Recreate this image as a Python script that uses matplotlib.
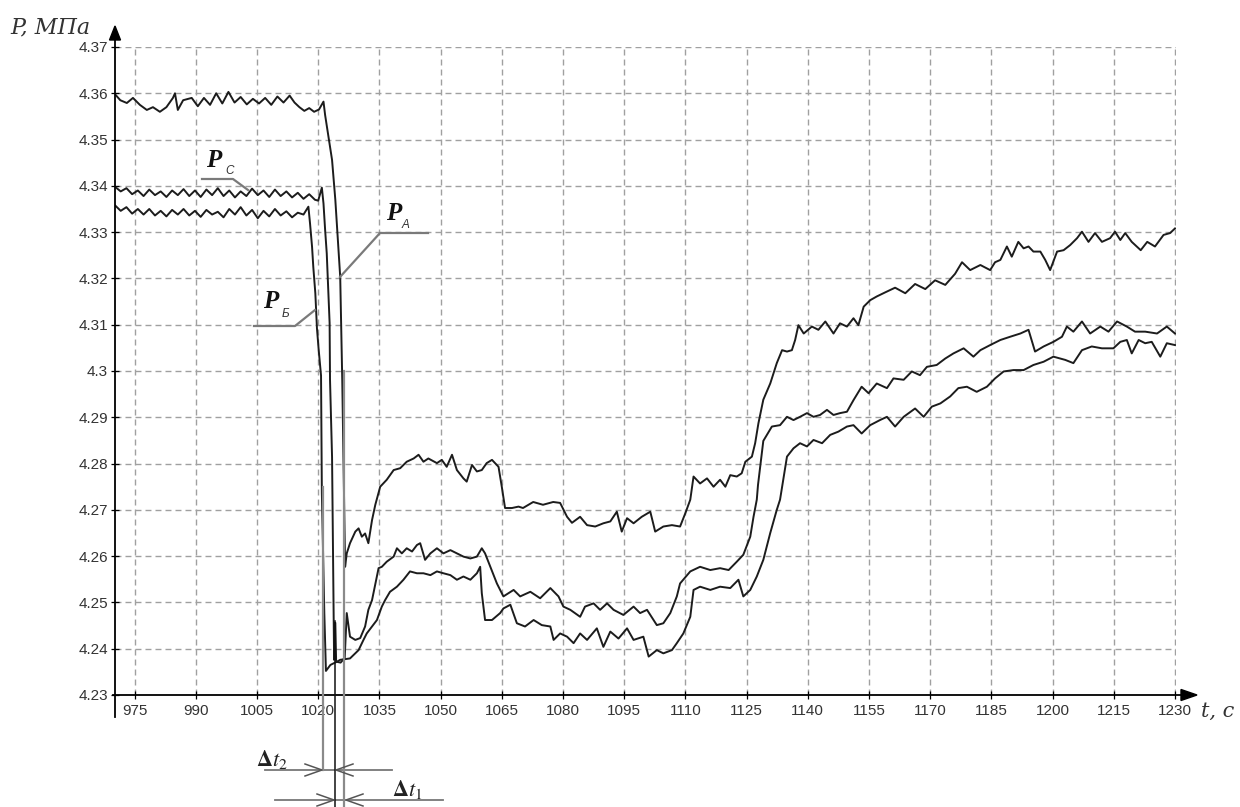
import matplotlib
matplotlib.use('Agg')
import matplotlib.pyplot as plt
from matplotlib.lines import Line2D
from matplotlib.patches import Polygon
from matplotlib import font_manager
import matplotlib.transforms as mtransforms

# ---------------- data (t in s, P in MPa) ----------------
curve_A = [
    (970.2, 4.3598), (971.5, 4.3585), (973.1, 4.3579), (974.6, 4.3590), (976.3, 4.3575),
    (978.0, 4.3564), (979.5, 4.3570), (981.2, 4.3560), (982.8, 4.3570), (984.4, 4.3590),
    (984.9, 4.3600), (985.6, 4.3564), (986.9, 4.3585), (989.0, 4.3590), (990.5, 4.3572),
    (992.0, 4.3590), (993.5, 4.3575), (995.0, 4.3600), (996.5, 4.3578), (998.0, 4.3603),
    (999.5, 4.3580), (1001.0, 4.3592), (1002.5, 4.3576), (1004.0, 4.3588), (1005.5, 4.3578),
    (1007.0, 4.3590), (1008.5, 4.3575), (1010.0, 4.3593), (1011.5, 4.3580), (1013.0, 4.3595),
    (1014.2, 4.3580), (1015.4, 4.3570), (1016.6, 4.3562), (1017.8, 4.3568), (1019.0, 4.3560),
    (1020.2, 4.3565), (1021.3, 4.3582),
    (1021.7, 4.3553), (1023.4, 4.3456), (1024.2, 4.3370), (1025.4, 4.3203), (1025.9, 4.2980),
    (1026.3, 4.2750), (1026.6, 4.2577),
    (1027.0, 4.2606), (1027.8, 4.2628), (1029.1, 4.2653), (1029.9, 4.2660), (1030.7, 4.2642),
    (1031.5, 4.2649), (1032.3, 4.2628), (1033.2, 4.2678), (1034.0, 4.2711), (1035.2, 4.2750),
    (1036.8, 4.2765), (1038.5, 4.2786), (1040.1, 4.2790), (1041.7, 4.2804), (1043.4, 4.2811),
    (1044.6, 4.2819), (1045.8, 4.2804), (1047.0, 4.2811), (1049.1, 4.2801), (1050.3, 4.2808),
    (1051.5, 4.2793), (1052.8, 4.2819), (1054.0, 4.2786), (1055.6, 4.2768), (1056.4, 4.2761),
    (1057.7, 4.2797), (1058.9, 4.2783), (1060.1, 4.2786), (1061.3, 4.2801), (1062.6, 4.2808),
    (1064.2, 4.2793), (1065.0, 4.2750), (1065.8, 4.2704), (1067.5, 4.2704), (1069.1, 4.2707),
    (1070.2, 4.2704), (1072.7, 4.2717), (1075.1, 4.2711), (1077.6, 4.2717), (1079.3, 4.2715),
    (1081.0, 4.2685), (1082.2, 4.2672), (1084.2, 4.2685), (1085.9, 4.2667), (1087.9, 4.2664),
    (1089.9, 4.2671), (1091.6, 4.2675), (1093.2, 4.2696), (1094.4, 4.2653), (1095.7, 4.2682),
    (1097.3, 4.2671), (1099.3, 4.2685), (1101.4, 4.2696), (1102.6, 4.2653), (1104.6, 4.2664),
    (1106.7, 4.2667), (1108.7, 4.2664), (1110.0, 4.2693), (1111.2, 4.2722), (1112.0, 4.2772),
    (1113.6, 4.2757), (1115.3, 4.2768), (1116.9, 4.2750), (1118.5, 4.2765), (1119.8, 4.2750),
    (1121.0, 4.2775), (1122.6, 4.2772), (1123.8, 4.2779), (1124.7, 4.2804), (1126.3, 4.2815),
    (1127.1, 4.2844), (1127.9, 4.2887), (1129.1, 4.2938), (1130.8, 4.2973), (1132.4, 4.3017),
    (1133.7, 4.3045), (1134.9, 4.3042), (1136.1, 4.3045), (1136.9, 4.3067), (1137.7, 4.3099),
    (1139.0, 4.3081), (1141.0, 4.3096), (1142.6, 4.3089), (1144.3, 4.3107), (1146.3, 4.3081),
    (1147.9, 4.3103), (1149.6, 4.3096), (1151.2, 4.3114), (1152.4, 4.3099), (1153.7, 4.3139),
    (1155.3, 4.3153), (1156.9, 4.3161), (1159.0, 4.3170), (1161.4, 4.3180), (1163.9, 4.3168),
    (1166.3, 4.3188), (1168.8, 4.3177), (1171.2, 4.3196), (1173.7, 4.3186), (1176.1, 4.3210),
    (1177.8, 4.3235), (1179.8, 4.3218), (1182.3, 4.3229), (1184.7, 4.3218), (1185.9, 4.3235),
    (1187.2, 4.3240), (1188.8, 4.3269), (1190.0, 4.3247), (1191.6, 4.3279), (1192.9, 4.3265),
    (1194.1, 4.3269), (1195.3, 4.3258), (1197.0, 4.3258), (1198.2, 4.3240), (1199.4, 4.3218),
    (1201.1, 4.3258), (1202.7, 4.3261), (1204.3, 4.3272), (1206.0, 4.3287), (1207.2, 4.3301),
    (1208.8, 4.3279), (1210.4, 4.3298), (1212.1, 4.3279), (1214.1, 4.3287), (1215.3, 4.3301),
    (1216.6, 4.3283), (1217.8, 4.3298), (1219.4, 4.3279), (1221.6, 4.3261), (1223.2, 4.3279),
    (1225.1, 4.3269), (1227.2, 4.3294), (1228.8, 4.3298), (1230.0, 4.3308),
]

curve_C = [
    (970.2, 4.3398), (971.6, 4.3388), (973.0, 4.3395), (974.4, 4.3382), (975.8, 4.3390),
    (977.2, 4.3378), (978.6, 4.3392), (980.0, 4.3380), (981.4, 4.3388), (982.8, 4.3376),
    (984.2, 4.3390), (985.6, 4.3380), (987.0, 4.3393), (988.4, 4.3378), (989.8, 4.3390),
    (991.2, 4.3376), (992.6, 4.3392), (994.0, 4.3380), (995.4, 4.3395), (996.8, 4.3378),
    (998.2, 4.3390), (999.6, 4.3375), (1001.0, 4.3388), (1002.4, 4.3378), (1003.8, 4.3394),
    (1005.2, 4.3380), (1006.6, 4.3390), (1008.0, 4.3376), (1009.4, 4.3392), (1010.8, 4.3378),
    (1012.2, 4.3388), (1013.6, 4.3375), (1015.0, 4.3385), (1016.4, 4.3372), (1017.8, 4.3382),
    (1019.2, 4.3370), (1020.0, 4.3368), (1020.9, 4.3396),
    (1021.3, 4.3362), (1021.7, 4.3305), (1022.1, 4.3254), (1022.5, 4.3168), (1022.8, 4.3104),
    (1022.9, 4.2981), (1023.4, 4.2814), (1023.9, 4.2376), (1024.2, 4.2456), (1024.4, 4.2372),
    (1025.5, 4.2370), (1026.5, 4.2380), (1027.0, 4.2477), (1027.8, 4.2426), (1029.1, 4.2419),
    (1030.3, 4.2423), (1031.5, 4.2448), (1032.3, 4.2484), (1033.2, 4.2505), (1034.8, 4.2574),
    (1035.6, 4.2577), (1036.8, 4.2588), (1038.5, 4.2599), (1039.3, 4.2617), (1040.5, 4.2606),
    (1041.7, 4.2617), (1043.0, 4.2610), (1044.2, 4.2624), (1045.0, 4.2628), (1046.2, 4.2592),
    (1047.5, 4.2606), (1049.1, 4.2617), (1050.7, 4.2606), (1052.4, 4.2613), (1054.0, 4.2606),
    (1055.6, 4.2599), (1057.3, 4.2595), (1058.9, 4.2599), (1060.1, 4.2617), (1060.9, 4.2606),
    (1062.2, 4.2577), (1063.8, 4.2541), (1065.4, 4.2513), (1067.9, 4.2527), (1069.5, 4.2513),
    (1072.0, 4.2523), (1074.4, 4.2509), (1076.9, 4.2531), (1078.9, 4.2513), (1080.1, 4.2491),
    (1081.8, 4.2484), (1084.2, 4.2469), (1085.4, 4.2491), (1087.5, 4.2498), (1089.1, 4.2484),
    (1090.8, 4.2498), (1092.4, 4.2484), (1094.8, 4.2473), (1097.3, 4.2491), (1098.9, 4.2477),
    (1100.6, 4.2484), (1103.0, 4.2451), (1104.6, 4.2455), (1106.3, 4.2477), (1107.9, 4.2513),
    (1108.7, 4.2541), (1111.2, 4.2567), (1113.6, 4.2577), (1116.1, 4.2570), (1118.5, 4.2574),
    (1120.6, 4.2570), (1122.6, 4.2588), (1124.2, 4.2603), (1125.9, 4.2642), (1126.7, 4.2685),
    (1127.5, 4.2722), (1127.8, 4.2754), (1129.1, 4.2849), (1131.2, 4.2880), (1133.2, 4.2883),
    (1134.9, 4.2901), (1136.5, 4.2894), (1138.1, 4.2901), (1139.8, 4.2909), (1141.4, 4.2901),
    (1143.0, 4.2905), (1144.7, 4.2916), (1146.3, 4.2905), (1147.9, 4.2909), (1149.6, 4.2912),
    (1151.2, 4.2937), (1153.2, 4.2966), (1154.9, 4.2952), (1156.9, 4.2973), (1159.4, 4.2963),
    (1161.0, 4.2984), (1163.5, 4.2981), (1165.5, 4.2999), (1167.5, 4.2991), (1169.2, 4.3009),
    (1171.6, 4.3013), (1173.7, 4.3027), (1175.7, 4.3038), (1178.2, 4.3049), (1180.6, 4.3031),
    (1182.3, 4.3045), (1184.7, 4.3056), (1187.2, 4.3067), (1189.6, 4.3074), (1192.1, 4.3081),
    (1194.1, 4.3089), (1195.7, 4.3042), (1197.8, 4.3053), (1200.2, 4.3063), (1202.3, 4.3074),
    (1203.5, 4.3096), (1205.1, 4.3085), (1207.2, 4.3107), (1209.2, 4.3081), (1211.7, 4.3096),
    (1213.7, 4.3085), (1215.8, 4.3107), (1218.2, 4.3096), (1220.2, 4.3085), (1222.7, 4.3085),
    (1225.6, 4.3081), (1228.0, 4.3096), (1230.0, 4.3081),
]

curve_B = [
    (970.2, 4.3358), (971.6, 4.3346), (973.0, 4.3354), (974.4, 4.3340), (975.8, 4.3350),
    (977.2, 4.3338), (978.6, 4.3350), (980.0, 4.3336), (981.4, 4.3346), (982.8, 4.3334),
    (984.2, 4.3348), (985.6, 4.3338), (987.0, 4.3350), (988.4, 4.3336), (989.8, 4.3346),
    (991.2, 4.3333), (992.6, 4.3348), (994.0, 4.3338), (995.4, 4.3344), (996.8, 4.3332),
    (998.2, 4.3350), (999.6, 4.3338), (1001.0, 4.3354), (1002.4, 4.3336), (1003.8, 4.3348),
    (1005.2, 4.3330), (1006.6, 4.3346), (1008.0, 4.3334), (1009.4, 4.3350), (1010.8, 4.3336),
    (1012.2, 4.3345), (1013.6, 4.3332), (1015.0, 4.3342), (1016.4, 4.3338), (1017.6, 4.3355),
    (1018.0, 4.3319), (1018.5, 4.3268), (1018.8, 4.3225), (1019.3, 4.3168), (1019.7, 4.3092),
    (1020.1, 4.3048), (1020.7, 4.2990), (1020.9, 4.2737), (1021.5, 4.2477), (1021.9, 4.2352),
    (1023.0, 4.2365), (1024.6, 4.2372), (1025.4, 4.2376), (1027.8, 4.2379), (1029.9, 4.2397),
    (1031.1, 4.2419), (1031.9, 4.2433), (1033.2, 4.2448), (1034.4, 4.2462), (1035.6, 4.2491),
    (1036.4, 4.2505), (1037.6, 4.2523), (1039.3, 4.2534), (1040.9, 4.2549), (1042.5, 4.2567),
    (1044.2, 4.2563), (1045.8, 4.2563), (1047.5, 4.2559), (1049.1, 4.2567), (1050.7, 4.2563),
    (1052.4, 4.2559), (1054.0, 4.2549), (1055.6, 4.2556), (1057.3, 4.2549), (1058.9, 4.2563),
    (1059.7, 4.2577), (1060.1, 4.2520), (1060.9, 4.2462), (1062.6, 4.2462), (1064.6, 4.2477),
    (1065.4, 4.2487), (1067.1, 4.2495), (1068.7, 4.2455), (1070.7, 4.2448), (1072.8, 4.2462),
    (1074.8, 4.2451), (1076.9, 4.2448), (1077.7, 4.2419), (1079.3, 4.2433), (1081.0, 4.2426),
    (1082.6, 4.2412), (1084.2, 4.2433), (1085.9, 4.2419), (1088.3, 4.2444), (1089.9, 4.2404),
    (1091.6, 4.2437), (1093.6, 4.2422), (1095.7, 4.2444), (1097.3, 4.2419), (1099.7, 4.2426),
    (1101.0, 4.2383), (1103.0, 4.2397), (1104.6, 4.2390), (1106.7, 4.2397), (1107.9, 4.2412),
    (1109.5, 4.2433), (1111.2, 4.2469), (1112.0, 4.2527), (1113.6, 4.2534), (1116.1, 4.2527),
    (1118.5, 4.2534), (1121.0, 4.2531), (1123.0, 4.2549), (1124.2, 4.2513), (1125.9, 4.2527),
    (1127.5, 4.2556), (1129.1, 4.2592), (1130.8, 4.2650), (1132.4, 4.2700), (1133.2, 4.2722),
    (1134.9, 4.2815), (1136.5, 4.2833), (1138.1, 4.2844), (1139.8, 4.2837), (1141.4, 4.2851),
    (1143.5, 4.2844), (1145.5, 4.2862), (1147.5, 4.2869), (1149.6, 4.2880), (1151.2, 4.2883),
    (1153.2, 4.2865), (1155.3, 4.2883), (1157.7, 4.2894), (1159.4, 4.2901), (1161.4, 4.2880),
    (1163.5, 4.2901), (1166.3, 4.2919), (1168.4, 4.2901), (1170.4, 4.2923), (1172.5, 4.2930),
    (1174.9, 4.2945), (1176.9, 4.2963), (1179.0, 4.2966), (1181.4, 4.2955), (1183.9, 4.2966),
    (1185.9, 4.2984), (1188.0, 4.2999), (1190.4, 4.3002), (1192.9, 4.3002), (1195.3, 4.3013),
    (1197.8, 4.3020), (1200.2, 4.3031), (1203.1, 4.3024), (1205.1, 4.3017), (1207.2, 4.3045),
    (1209.6, 4.3053), (1212.1, 4.3049), (1214.9, 4.3049), (1216.6, 4.3063), (1218.2, 4.3067),
    (1219.4, 4.3038), (1221.1, 4.3067), (1222.7, 4.3060), (1224.3, 4.3063), (1226.4, 4.3031),
    (1228.0, 4.3060), (1230.0, 4.3056),
]

x_ticks = [975, 990, 1005, 1020, 1035, 1050, 1065, 1080, 1095, 1110, 1125,
           1140, 1155, 1170, 1185, 1200, 1215, 1230]
y_ticks = [4.23, 4.24, 4.25, 4.26, 4.27, 4.28, 4.29, 4.30, 4.31, 4.32, 4.33,
           4.34, 4.35, 4.36, 4.37]
y_tick_labels = ['4.23', '4.24', '4.25', '4.26', '4.27', '4.28', '4.29', '4.3',
                 '4.31', '4.32', '4.33', '4.34', '4.35', '4.36', '4.37']
marker_times = [1021.2, 1024.2, 1026.4]

# ---------------- figure ----------------
W, H = 1240, 807
plt.rcParams['mathtext.fontset'] = 'stix'


def has_font(name):
    try:
        font_manager.findfont(font_manager.FontProperties(family=name),
                              fallback_to_default=False)
        return True
    except Exception:
        return False


tick_font = 'Liberation Sans Narrow' if has_font('Liberation Sans Narrow') else 'Liberation Sans'

fig = plt.figure(figsize=(W / 100, H / 100), dpi=100)
ax_left, ax_right, ax_top, ax_bottom = 115, 1175.8, 47, 695
ax = fig.add_axes([ax_left / W, 1 - ax_bottom / H, (ax_right - ax_left) / W,
                   (ax_bottom - ax_top) / H])
ax.set_xlim(970.2, 1230.2)
ax.set_ylim(4.23, 4.37)

for crv in (curve_B, curve_C, curve_A):
    t, p = zip(*crv)
    ax.plot(t, p, color='#1c1c1c', lw=1.4, zorder=3, solid_joinstyle='round')

ax.set_xticks(x_ticks)
ax.set_xticklabels([str(v) for v in x_ticks])
ax.set_yticks(y_ticks)
ax.set_yticklabels(y_tick_labels)
ax.grid(True, ls=(0, (4.3, 2.9)), color='#a0a0a0', lw=1.0, zorder=1)
for s in ax.spines.values():
    s.set_visible(False)
ax.tick_params(axis='both', direction='inout', length=6, width=0.9, color='black',
               labelsize=11, labelcolor='#333333')
ax.tick_params(axis='x', pad=3.5)
ax.tick_params(axis='y', pad=2)
for lab in ax.get_xticklabels() + ax.get_yticklabels():
    lab.set_fontfamily(tick_font)


def fx(x):
    return x / W


def fy(y):
    return 1 - y / H


def fline(xs, ys, **kw):
    fig.add_artist(Line2D([fx(v) for v in xs], [fy(v) for v in ys],
                          transform=fig.transFigure, **kw))


# axes with arrows
fline([ax_left, ax_left], [717, 38], color='black', lw=1.3, zorder=5)
fline([113, 1184], [ax_bottom, ax_bottom], color='black', lw=1.3, zorder=5)
fig.add_artist(Polygon([(fx(109.5), fy(40)), (fx(120.5), fy(40)), (fx(115), fy(26))],
                       closed=True, transform=fig.transFigure, color='black', zorder=6))
fig.add_artist(Polygon([(fx(1181), fy(689.5)), (fx(1181), fy(700.5)), (fx(1197), fy(695))],
                       closed=True, transform=fig.transFigure, color='black', zorder=6))

# axis titles
fig.text(fx(10), fy(33), 'P, МПа', family='DejaVu Serif', style='italic',
         fontsize=16, color='#333333', ha='left', va='baseline')
fig.text(fx(1201), fy(717), 't, с', family='DejaVu Serif', style='italic',
         fontsize=15, color='#333333', ha='left', va='baseline')

# vertical measurement markers
blend = mtransforms.blended_transform_factory(ax.transData, fig.transFigure)
marker_tops = [4.275, 4.246, 4.30]
marker_bottoms = [770, 807, 807]
marker_colors = ['#8a8a8a', '#111111', '#8a8a8a']
for mt, top, bot, col in zip(marker_times, marker_tops, marker_bottoms, marker_colors):
    ytop = fy(ax_bottom - (top - 4.23) / 0.14 * (ax_bottom - ax_top))
    fig.add_artist(Line2D([mt, mt], [ytop, fy(bot)], transform=blend, color=col,
                          lw=1.6 if col != '#111111' else 1.1, zorder=7))

# delta-t dimension lines
gray = '#777777'
fline([265, 392], [770, 770], color=gray, lw=1.3, zorder=6)
fline([275, 443], [800, 800], color=gray, lw=1.3, zorder=6)


def arrow_head(xtip, ytip, direction):
    d = -1 if direction == 'right' else 1
    fline([xtip + d * 17, xtip, xtip + d * 17], [ytip - 6, ytip, ytip + 6],
          color='#555555', lw=1.1, zorder=7)


arrow_head(322, 770, 'right')
arrow_head(336, 770, 'left')
arrow_head(334, 800, 'right')
arrow_head(346, 800, 'left')

fig.text(fx(256), fy(766), r'$\mathbf{\Delta}t_2$', fontsize=16, color='#222222',
         ha='left', va='baseline')
fig.text(fx(392), fy(796), r'$\mathbf{\Delta}t_1$', fontsize=16, color='#222222',
         ha='left', va='baseline')

# curve labels with leaders
lead_col = '#7a7a7a'
fline([202, 233, 248], [179, 179, 190], color=lead_col, lw=1.6, zorder=6)
fline([428, 380, 340], [233, 233, 277], color=lead_col, lw=1.6, zorder=6)
fline([254, 295, 315], [326, 326, 310], color=lead_col, lw=1.6, zorder=6)

for (xp, yp, sub, xs, ys) in [(206, 167, 'С', 225, 174),
                              (386, 220, 'A', 402, 228),
                              (263, 308, 'Б', 282, 317)]:
    fig.text(fx(xp), fy(yp), 'P', family='Liberation Serif', weight='bold',
             style='italic', fontsize=18, color='#111111', ha='left', va='baseline')
    fig.text(fx(xs), fy(ys), sub, family='Liberation Sans', style='italic',
             fontsize=8.5, color='#333333', ha='left', va='baseline')

fig.savefig('out.png', dpi=100, facecolor='white')
